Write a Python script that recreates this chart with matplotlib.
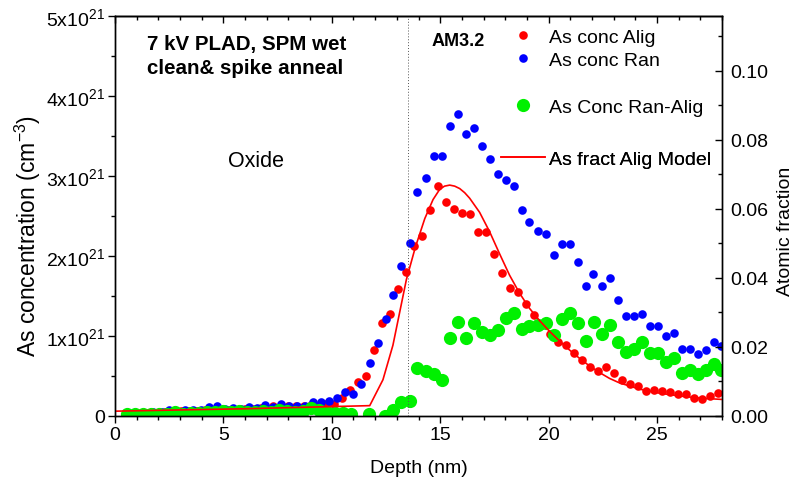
"""
As depth profile after 7 kV PLAD + spike anneal (AM3.2)
channeling (Alig) vs random (Ran) concentration, plus model fraction
"""

import numpy as np
import matplotlib
matplotlib.use('Agg')
import matplotlib.pyplot as plt
from matplotlib.ticker import MultipleLocator

""" 1. data read off the profile """

# random concentration, units of 1e21 cm^-3
ran_depth = [0.64, 1.01, 1.38, 1.76, 2.15, 2.50, 2.89, 3.24, 3.61, 3.96,
             4.33, 4.71, 5.08, 5.45, 5.82, 6.19, 6.56, 6.93, 7.29, 7.66,
             8.03, 8.40, 8.77, 9.14, 9.51, 9.88, 10.24, 10.61, 11.00, 11.37,
             11.75, 12.13, 12.49, 12.82, 13.21, 13.59, 13.95, 14.33, 14.70, 15.07,
             15.44, 15.81, 16.17, 16.54, 16.91, 17.28, 17.65, 18.02, 18.39, 18.76,
             19.12, 19.49, 19.86, 20.23, 20.60, 20.97, 21.34, 21.71, 22.07, 22.46,
             22.82, 23.19, 23.56, 23.93, 24.30, 24.67, 25.04, 25.41, 25.77, 26.14,
             26.51, 26.88, 27.25, 27.62, 27.96]
ran_conc = [0.03, 0.03, 0.04, 0.05, 0.05, 0.08, 0.05, 0.08, 0.08, 0.08,
            0.11, 0.12, 0.09, 0.10, 0.09, 0.11, 0.10, 0.14, 0.11, 0.15,
            0.12, 0.13, 0.12, 0.18, 0.17, 0.19, 0.23, 0.30, 0.28, 0.40,
            0.66, 0.91, 1.21, 1.51, 1.88, 2.16, 2.80, 2.97, 3.25, 3.25,
            3.62, 3.77, 3.53, 3.60, 3.37, 3.21, 3.02, 2.95, 2.88, 2.58,
            2.43, 2.31, 2.28, 2.01, 2.15, 2.15, 1.93, 1.62, 1.78, 1.62,
            1.73, 1.45, 1.25, 1.25, 1.28, 1.13, 1.13, 1.00, 1.04, 0.84,
            0.84, 0.77, 0.82, 0.93, 0.88]

# aligned concentration, units of 1e21 cm^-3
alig_depth = [0.82, 1.19, 1.56, 1.93, 2.30, 2.67, 3.04, 3.41, 3.78, 4.15,
              4.52, 4.88, 5.25, 5.62, 5.99, 6.36, 6.73, 6.95, 7.30, 7.65,
              8.00, 8.35, 8.70, 9.05, 9.38, 9.72, 10.09, 10.45, 10.83, 11.21,
              11.57, 11.94, 12.30, 12.67, 13.04, 13.42, 13.78, 14.15, 14.52, 14.88,
              15.25, 15.62, 15.99, 16.36, 16.73, 17.10, 17.47, 17.83, 18.20, 18.60,
              18.97, 19.34, 19.71, 20.08, 20.45, 20.82, 21.18, 21.55, 21.92, 22.29,
              22.66, 23.03, 23.40, 23.76, 24.13, 24.50, 24.87, 25.24, 25.61, 25.98,
              26.35, 26.71, 27.08, 27.45, 27.82]
alig_conc = [0.03, 0.03, 0.04, 0.04, 0.05, 0.05, 0.06, 0.06, 0.06, 0.07,
             0.08, 0.08, 0.08, 0.08, 0.09, 0.09, 0.10, 0.10, 0.12, 0.11,
             0.12, 0.12, 0.13, 0.14, 0.13, 0.15, 0.15, 0.23, 0.33, 0.43,
             0.50, 0.82, 1.16, 1.28, 1.59, 1.80, 2.13, 2.25, 2.58, 2.88,
             2.67, 2.59, 2.54, 2.53, 2.30, 2.30, 2.03, 1.79, 1.60, 1.55,
             1.40, 1.26, 1.14, 1.03, 0.93, 0.89, 0.79, 0.70, 0.61, 0.56,
             0.61, 0.54, 0.45, 0.40, 0.38, 0.31, 0.33, 0.31, 0.30, 0.28,
             0.28, 0.22, 0.21, 0.25, 0.29]

# Ran - Alig, units of 1e21 cm^-3
diff_depth = [0.55, 0.92, 1.29, 1.66, 2.03, 2.40, 2.77, 3.14, 3.50, 3.87,
              4.24, 4.61, 4.98, 5.35, 5.72, 6.09, 6.46, 6.83, 7.20, 7.57,
              7.94, 8.30, 8.67, 9.04, 9.41, 9.78, 10.15, 10.52, 10.89,
              11.72, 12.47, 12.82, 13.21, 13.59, 13.95, 14.33, 14.70, 15.07,
              15.44, 15.81, 16.17, 16.54, 16.91, 17.28, 17.65, 18.02, 18.39, 18.76,
              19.12, 19.49, 19.86, 20.23, 20.61, 20.98, 21.36, 21.73, 22.09, 22.47,
              22.83, 23.20, 23.57, 23.94, 24.31, 24.68, 25.05, 25.42, 25.78, 26.15,
              26.52, 26.89, 27.26, 27.63, 27.96]
diff_conc = [0.02, 0.03, 0.03, 0.02, 0.03, 0.03, 0.05, 0.03, 0.04, 0.04,
             0.05, 0.05, 0.06, 0.05, 0.06, 0.05, 0.05, 0.06, 0.05, 0.07,
             0.06, 0.05, 0.06, 0.10, 0.08, 0.05, 0.04, 0.04, 0.03,
             0.02, 0.00, 0.075, 0.17, 0.19, 0.60, 0.56, 0.52, 0.45,
             0.98, 1.18, 0.98, 1.16, 1.05, 1.01, 1.08, 1.23, 1.29, 1.09,
             1.13, 1.14, 1.16, 1.01, 1.21, 1.29, 1.16, 0.94, 1.18, 1.02,
             1.14, 0.93, 0.80, 0.84, 0.92, 0.79, 0.79, 0.68, 0.73, 0.54,
             0.57, 0.53, 0.57, 0.65, 0.58]

# model, atomic fraction
model_depth = [0.00, 6.00, 11.75, 12.36, 12.82, 13.13, 13.44, 13.85, 14.29, 14.67,
               14.98, 15.20, 15.44, 15.67, 15.90, 16.13, 16.36, 16.82, 17.28, 17.74,
               18.20, 18.66, 19.12, 19.59, 20.05, 20.51, 20.97, 21.43, 21.89, 22.35,
               22.81, 23.27, 24.19, 25.12, 26.04, 26.96, 28.00]
model_frac = [0.0014, 0.0021, 0.0030, 0.0105, 0.0205, 0.0300, 0.0395, 0.0488, 0.0572, 0.0627,
              0.0657, 0.0666, 0.0669, 0.0666, 0.0659, 0.0647, 0.0631, 0.0590, 0.0534, 0.0470,
              0.0408, 0.0356, 0.0312, 0.0276, 0.0245, 0.0217, 0.0191, 0.0167, 0.0145, 0.0126,
              0.0109, 0.0096, 0.0078, 0.0066, 0.0058, 0.0052, 0.0048]

conc_ticks = [0, 1, 2, 3, 4, 5]
conc_labels = ['0'] + ['%dx10$^{21}$' % t for t in conc_ticks[1:]]
frac_ticks = [0.00, 0.02, 0.04, 0.06, 0.08, 0.10]

""" 2. fonts and figure """

plt.rcParams['font.family'] = ['Liberation Sans', 'DejaVu Sans']
plt.rcParams['mathtext.fontset'] = 'custom'
plt.rcParams['mathtext.rm'] = 'Liberation Sans'
plt.rcParams['mathtext.it'] = 'Liberation Sans:italic'
plt.rcParams['mathtext.bf'] = 'Liberation Sans:bold'

W, H = 796, 489
fig = plt.figure(figsize=(W / 100, H / 100), dpi=100)
ax1 = fig.add_axes([115 / W, 72 / H, 607 / W, 400 / H])
ax2 = ax1.twinx()

""" 3. data """

e21 = 1e21
l_alig, = ax1.plot(alig_depth, np.array(alig_conc) * e21, 'o', color='#ff0000',
                   ms=6.2, mec='none', label='As conc Alig')
l_ran, = ax1.plot(ran_depth, np.array(ran_conc) * e21, 'o', color='#0000ff',
                  ms=6.2, mec='none', label='As conc Ran')
l_diff, = ax1.plot(diff_depth, np.array(diff_conc) * e21, 'o', color='#00f000',
                   ms=9.5, mec='none', label='As Conc Ran-Alig')
ax1.axvline(13.5, color='#555555', ls=(0, (1, 2)), lw=0.7)
l_model, = ax2.plot(model_depth, model_frac, '-', color='#ff0000', lw=1.2,
                    label='As fract Alig Model')

""" 4. axes """

ax1.set_xlim(0, 28)
ax1.set_ylim(0, 5 * e21)
ax2.set_ylim(0, 0.1159)

ax1.xaxis.set_major_locator(MultipleLocator(5))
ax1.xaxis.set_minor_locator(MultipleLocator(1))
ax1.set_yticks([t * e21 for t in conc_ticks])
ax1.set_yticklabels(conc_labels)
ax1.yaxis.set_minor_locator(MultipleLocator(0.5 * e21))
ax2.set_yticks(frac_ticks)
ax2.set_yticklabels(['%.2f' % t for t in frac_ticks])
ax2.yaxis.set_minor_locator(MultipleLocator(0.01))

ax1.tick_params(axis='both', which='major', direction='out', length=5, width=1,
                labelsize=14, pad=2)
ax1.tick_params(axis='both', which='minor', direction='out', length=3, width=1)
ax2.tick_params(axis='y', which='major', direction='in', length=5, width=1,
                labelsize=14, pad=6)
ax2.tick_params(axis='y', which='minor', direction='in', length=3, width=1)

top = ax1.secondary_xaxis('top')
top.xaxis.set_major_locator(MultipleLocator(5))
top.xaxis.set_minor_locator(MultipleLocator(1))
top.tick_params(which='major', direction='in', length=5, width=1, labeltop=False)
top.tick_params(which='minor', direction='in', length=3, width=1)

for a in (ax1, ax2):
    for s in a.spines.values():
        s.set_linewidth(1.0)
top.spines['top'].set_linewidth(1.0)

ax1.set_xlabel('Depth (nm)', fontsize=14, labelpad=12)
ax1.set_ylabel('As concentration (cm$^{-3}$)', fontsize=16.5)
ax1.yaxis.set_label_coords(-0.1186, 0.4525)
ax2.set_ylabel('Atomic fraction', fontsize=14)
ax2.yaxis.set_label_coords(1.0906, 0.465)

""" 5. legends and notes """

def put_legend(handles, ycen):
    leg = ax2.legend(handles=handles, loc='center left',
                     bbox_to_anchor=(501 / W, 1 - ycen / H),
                     bbox_transform=fig.transFigure, frameon=False,
                     borderpad=0, borderaxespad=0, handlelength=2.27,
                     handletextpad=0.2, labelspacing=0.28, fontsize=14,
                     numpoints=1)
    ax2.add_artist(leg)

put_legend([l_alig, l_ran], 49.5)
put_legend([l_diff], 108)
put_legend([l_model], 160)

fig.text(147 / W, 1 - 50 / H, '7 kV PLAD, SPM wet', fontsize=14.8,
         weight='bold', va='baseline')
fig.text(147 / W, 1 - 74 / H, 'clean& spike anneal', fontsize=14.8,
         weight='bold', va='baseline')
fig.text(432 / W, 1 - 46.5 / H, 'AM3.2', fontsize=13, weight='bold',
         va='baseline')
fig.text(228 / W, 1 - 167 / H, 'Oxide', fontsize=15.5, va='baseline')

fig.savefig('out.png', dpi=100)
